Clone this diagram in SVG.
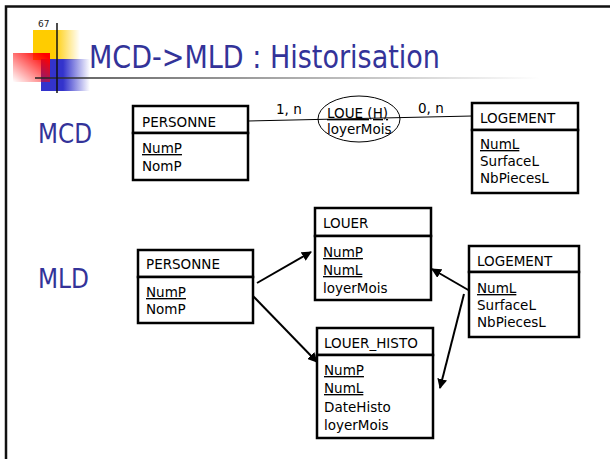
<svg xmlns="http://www.w3.org/2000/svg" width="610" height="459" viewBox="0 0 610 459">
<defs>
<style>
.t{font-family:"DejaVu Sans","Liberation Sans",sans-serif;font-size:13.5px;fill:#000}
.k{text-decoration:underline}
.box{fill:#fff;stroke:#000;stroke-width:2.5}
.h{font-family:"DejaVu Sans","Liberation Sans",sans-serif;fill:#333399}
.ar{stroke:#000;stroke-width:2;fill:none;marker-end:url(#ah)}
</style>
<marker id="ah" viewBox="0 0 10 10" refX="9" refY="5" markerWidth="5" markerHeight="5" orient="auto" markerUnits="strokeWidth">
<path d="M0,0 L10,5 L0,10 z" fill="#000"/>
</marker>
<linearGradient id="gy" x1="0" y1="0" x2="1" y2="0">
<stop offset="0.45" stop-color="#FFCC00"/>
<stop offset="1" stop-color="#FFCC00" stop-opacity="0"/>
</linearGradient>
<linearGradient id="gb" x1="0" y1="0" x2="1" y2="0">
<stop offset="0.45" stop-color="#3333CC"/>
<stop offset="1" stop-color="#3333CC" stop-opacity="0"/>
</linearGradient>
<linearGradient id="gr" x1="1" y1="0" x2="0" y2="1">
<stop offset="0.1" stop-color="#FF0000"/>
<stop offset="1" stop-color="#FF0000" stop-opacity="0"/>
</linearGradient>
<linearGradient id="gl" x1="35" y1="0" x2="540" y2="0" gradientUnits="userSpaceOnUse">
<stop offset="0" stop-color="#222"/>
<stop offset="0.4" stop-color="#777"/>
<stop offset="1" stop-color="#fff"/>
</linearGradient>
</defs>
<rect width="610" height="459" fill="#fff"/>
<path d="M6,459 V6.5 H610" fill="none" stroke="#111" stroke-width="2.5"/>
<g id="logo">
<rect x="33" y="30" width="47" height="30" fill="url(#gy)"/>
<rect x="41" y="59" width="49" height="32" fill="url(#gb)"/>
<rect x="13" y="53" width="37" height="29" fill="url(#gr)"/>
<line x1="35" y1="78" x2="576" y2="78" stroke="url(#gl)" stroke-width="1.5"/>
<line x1="57" y1="23" x2="57" y2="93" stroke="#111" stroke-width="1.5"/>
<text x="38" y="27" font-family="DejaVu Sans, sans-serif" font-size="9" fill="#222">67</text>
</g>
<text class="h" x="89" y="68" font-size="32" textLength="351" lengthAdjust="spacingAndGlyphs">MCD-&gt;MLD : Historisation</text>
<text class="h" x="38" y="143" font-size="27" textLength="54" lengthAdjust="spacingAndGlyphs">MCD</text>
<text class="h" x="38" y="288" font-size="27" textLength="51" lengthAdjust="spacingAndGlyphs">MLD</text>
<g id="connectors">
<line x1="248" y1="121" x2="472" y2="116" stroke="#000" stroke-width="1"/>
<line class="ar" x1="257" y1="283" x2="311" y2="252"/>
<line class="ar" x1="253" y1="296" x2="317" y2="362"/>
<line class="ar" x1="470" y1="291" x2="432" y2="269"/>
<line class="ar" x1="464" y1="294" x2="440" y2="388"/>
<text class="t" x="276" y="114">1, n</text>
<text class="t" x="418" y="113">0, n</text>
</g>
<g id="loue">
<ellipse cx="359" cy="119" rx="41" ry="23" fill="none" stroke="#000" stroke-width="1"/>
<text class="t k" x="327" y="118">LOUE (H)</text>
<text class="t" x="327" y="134">loyerMois</text>
</g>
<g id="mcd-personne">
<rect class="box" x="133" y="106" width="115" height="27"/>
<rect class="box" x="133" y="133" width="115" height="47"/>
<text class="t" x="142" y="127">PERSONNE</text>
<text class="t k" x="142" y="153">NumP</text>
<text class="t" x="142" y="171">NomP</text>
</g>
<g id="mcd-logement">
<rect class="box" x="472" y="103" width="106" height="27"/>
<rect class="box" x="472" y="130" width="106" height="63"/>
<text class="t" x="480" y="123">LOGEMENT</text>
<text class="t k" x="480" y="149">NumL</text>
<text class="t" x="480" y="166">SurfaceL</text>
<text class="t" x="480" y="183">NbPiecesL</text>
</g>
<g id="louer">
<rect class="box" x="315" y="208" width="116" height="28"/>
<rect class="box" x="315" y="236" width="116" height="64"/>
<text class="t" x="323" y="228">LOUER</text>
<text class="t k" x="323" y="257">NumP</text>
<text class="t k" x="323" y="275">NumL</text>
<text class="t" x="323" y="293">loyerMois</text>
</g>
<g id="mld-personne">
<rect class="box" x="138" y="250" width="115" height="27"/>
<rect class="box" x="138" y="277" width="115" height="46"/>
<text class="t" x="146" y="269">PERSONNE</text>
<text class="t k" x="146" y="297">NumP</text>
<text class="t" x="146" y="314">NomP</text>
</g>
<g id="mld-logement">
<rect class="box" x="469" y="246" width="110" height="26"/>
<rect class="box" x="469" y="272" width="110" height="65"/>
<text class="t" x="477" y="266">LOGEMENT</text>
<text class="t k" x="477" y="293">NumL</text>
<text class="t" x="477" y="310">SurfaceL</text>
<text class="t" x="477" y="327">NbPiecesL</text>
</g>
<g id="louer-histo">
<rect class="box" x="317" y="328" width="116" height="27"/>
<rect class="box" x="317" y="355" width="116" height="83"/>
<text class="t" x="324" y="348">LOUER_HISTO</text>
<text class="t k" x="324" y="375">NumP</text>
<text class="t k" x="324" y="393">NumL</text>
<text class="t" x="324" y="412">DateHisto</text>
<text class="t" x="324" y="430">loyerMois</text>
</g>
</svg>
